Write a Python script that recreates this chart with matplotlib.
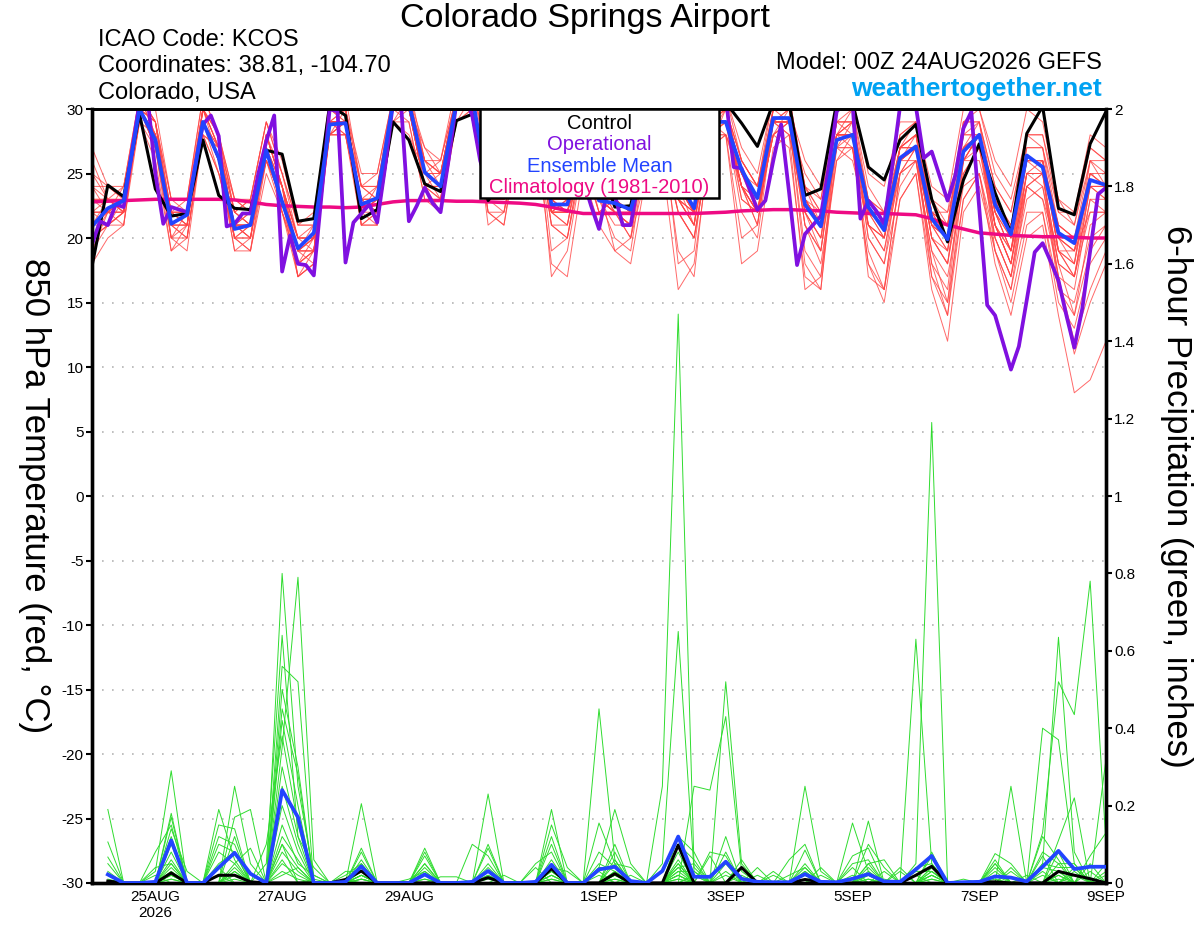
import numpy as np
import pandas as pd
import matplotlib
matplotlib.use("Agg")
import matplotlib.pyplot as plt
from matplotlib.patches import Rectangle

plt.rcParams['font.family'] = ['Liberation Sans', 'DejaVu Sans']

# ---------------- data ----------------
start = '2026-08-24 00:00'
times6 = pd.date_range(start, periods=65, freq='6h').to_numpy()
times3 = pd.date_range(start, periods=129, freq='3h').to_numpy()

tick_dates = pd.to_datetime(['2026-08-25', '2026-08-27', '2026-08-29', '2026-09-01',
                             '2026-09-03', '2026-09-05', '2026-09-07', '2026-09-09']).to_numpy()
tick_labels = ['25AUG\n2026', '27AUG', '29AUG', '1SEP', '3SEP', '5SEP', '7SEP', '9SEP']
temp_ticks = [-30, -25, -20, -15, -10, -5, 0, 5, 10, 15, 20, 25, 30]
precip_ticks = [0, 0.2, 0.4, 0.6, 0.8, 1.0, 1.2, 1.4, 1.6, 1.8, 2.0]
precip_tick_labels = ['0', '0.2', '0.4', '0.6', '0.8', '1', '1.2', '1.4', '1.6', '1.8', '2']

# control (GEFS c00) 850 hPa temperature, 6-hourly
control_temp = [17.8, 24.1, 23.2, 29.6, 23.8, 21.7, 21.9, 27.6, 23.3, 22.3, 22.2, 26.8, 26.5,
                21.3, 21.5, 30.3, 29.5, 21.5, 22.2, 29.0, 27.6, 24.2, 23.6, 29.1, 29.6,
                22.9, 24.5, 29.5, 30.5, 24.5, 24.0, 29.0, 26.0, 22.4, 22.5, 28.5, 30.5,
                26.5, 25.0, 30.5, 30.5, 28.9, 27.1, 30.5, 30.5, 23.3, 23.8, 30.5, 30.5,
                25.5, 24.5, 27.6, 28.8, 23.0, 19.7, 24.5, 27.3, 23.5, 20.4, 28.1, 30.2,
                22.3, 21.8, 27.3, 29.8]

# ensemble mean 850 hPa temperature, 6-hourly
mean_temp = [20.9, 22.3, 22.9, 30.0, 27.6, 21.1, 21.8, 29.0, 26.2, 20.7, 21.0, 26.8, 22.8,
             19.2, 20.4, 28.8, 28.9, 22.6, 23.1, 30.5, 30.5, 25.1, 24.0, 30.5, 31.0,
             23.8, 23.5, 29.0, 29.5, 22.6, 22.6, 27.0, 22.9, 22.7, 22.2, 26.5, 28.0,
             24.5, 22.3, 29.0, 29.0, 25.3, 23.1, 29.3, 29.3, 22.6, 20.9, 27.6, 28.0,
             22.4, 20.6, 26.2, 27.1, 21.5, 19.9, 26.7, 28.0, 22.6, 20.3, 26.4, 25.5,
             20.4, 19.6, 24.5, 24.1]

# climatology (1981-2010), 6-hourly
clim_temp = [22.8, 22.85, 22.9, 22.95, 23.0, 23.0, 23.0, 23.0, 23.0, 22.95, 22.8, 22.6, 22.5,
             22.45, 22.4, 22.4, 22.35, 22.4, 22.6, 22.8, 22.9, 22.9, 22.9, 22.85, 22.85,
             22.8, 22.75, 22.7, 22.6, 22.4, 22.1, 21.9, 21.9, 21.9, 21.9, 21.9, 21.9,
             21.9, 21.9, 21.95, 22.0, 22.1, 22.15, 22.2, 22.2, 22.15, 22.1, 22.0, 21.95,
             21.9, 21.9, 21.85, 21.8, 21.5, 21.0, 20.7, 20.4, 20.3, 20.2, 20.15, 20.1,
             20.1, 20.05, 20.0, 20.0]

# operational GFS 850 hPa temperature, 3-hourly
oper_temp = [19.5, 21.3, 21.0, 22.6, 22.4, 26.5, 30.5, 31.0, 25.0, 21.1, 22.4, 22.2, 22.0,
             25.5, 28.8, 29.5, 27.9, 20.9, 21.1, 21.9, 21.9, 25.0, 27.5, 29.5, 17.4,
             20.2, 18.0, 17.9, 17.1, 23.5, 30.0, 29.8, 18.1, 21.2, 21.9, 22.6, 21.2,
             25.5, 30.5, 30.5, 21.3, 22.5, 23.9, 22.7, 22.0, 26.0, 30.5, 31.0, 29.5,
             26.0, 24.0, 25.5, 27.5, 29.0, 30.5, 28.0, 25.0, 23.5, 23.6, 26.0, 28.5,
             29.0, 24.5, 22.5, 20.7, 23.5, 23.3, 21.0, 21.0, 24.5, 27.5, 29.5, 30.5,
             28.0, 25.5, 24.0, 23.8, 25.5, 28.0, 30.0, 31.0, 25.5, 25.4, 23.8, 22.2,
             22.9, 26.0, 28.8, 23.5, 17.9, 20.3, 21.0, 21.7, 25.5, 29.8, 30.5, 30.5,
             21.5, 22.9, 22.1, 21.1, 25.5, 30.2, 31.0, 30.2, 26.2, 26.7, 24.8, 22.9,
             24.9, 28.5, 29.8, 22.3, 14.8, 14.0, 11.9, 9.8, 11.6, 15.2, 18.9, 19.6,
             18.2, 16.7, 14.0, 11.5, 14.5, 19.0, 23.4, 23.9]

# ensemble members 850 hPa temperature, 6-hourly
member_temp = [
    [24, 24,23,31,30, 23,23,31,28, 22,23,29,25, 21,21,30,31, 24,25,31,32, 26,25,31,32, 25,26,31,30, 24,25,29,25, 24,23,28,29, 25,23,30,30, 26,24,29,28, 22,20,27,27, 18,16,25,26, 19,17,24,25, 19,16,22,22, 16,15,20,21],
    [18, 20,21,30,27, 19,21,29,26, 19,20,28,24, 17,18,28,29, 21,22,30,31, 24,23,31,30, 23,22,28,29, 21,20,26,24, 22,21,27,29, 23,21,29,30, 24,22,30,31, 24,23,30,30, 24,22,28,29, 22,21,29,30, 25,23,28,28, 22,22,27,26],
    [26, 23,22,29,27, 21,20,28,27, 23,22,26,22, 18,19,30,30, 22,21,29,28, 25,26,32,31, 22,21,29,30, 17,19,26,22, 22,20,25,26, 16,18,27,30, 23,22,28,27, 17,16,28,30, 21,20,27,28, 22,21,29,29, 21,18,24,23, 17,12,16,19],
    [22, 22,24,31,29, 21,22,30,26, 21,21,28,25, 20,20,29,28, 23,24,30,30, 26,24,29,31, 24,25,30,29, 22,23,28,24, 23,22,28,28, 24,21,30,31, 26,24,31,30, 21,18,26,28, 20,18,24,26, 18,16,26,28, 22,19,27,27, 19,18,26,24],
    [20, 21,22,30,28, 22,21,29,25, 20,21,26,23, 19,21,28,29, 24,23,30,29, 23,23,31,31, 25,24,29,28, 23,24,27,23, 24,23,27,27, 23,22,28,28, 24,22,28,29, 25,23,29,29, 23,21,27,28, 20,19,28,29, 24,22,28,27, 21,20,25,24],
    [23, 23,23,30,28, 20,19,28,27, 21,20,27,22, 19,18,29,30, 21,22,31,30, 25,25,30,30, 23,24,30,31, 22,22,28,23, 21,21,28,29, 18,19,29,29, 24,21,29,30, 22,20,28,27, 19,16,23,25, 16,12,22,24, 19,15,21,22, 15,13,18,20],
    [21, 21,22,29,28, 21,22,30,27, 21,22,27,23, 19,20,28,28, 22,23,29,31, 25,24,30,31, 24,23,29,28, 22,23,26,22, 23,22,26,28, 24,22,28,28, 25,23,29,29, 23,21,28,29, 22,21,27,28, 21,20,27,29, 23,21,27,27, 22,21,26,26],
    [19, 22,23,31,29, 21,21,29,26, 19,19,26,24, 18,19,30,29, 23,22,30,30, 24,22,29,30, 22,22,28,29, 21,21,27,24, 19,20,28,27, 22,20,27,28, 20,21,30,31, 24,21,27,26, 21,20,25,27, 22,22,26,27, 21,18,25,24, 17,16,23,22],
    [25, 23,22,30,29, 22,23,31,28, 23,22,28,24, 20,20,30,29, 24,24,30,30, 27,26,31,32, 26,25,31,30, 25,24,28,25, 25,24,29,30, 26,24,31,30, 25,23,28,29, 23,22,29,29, 22,21,26,27, 20,18,25,27, 22,20,26,25, 20,18,24,23],
    [22, 22,23,30,27, 20,20,28,25, 22,21,26,23, 19,19,28,30, 24,23,31,30, 24,25,30,30, 23,23,28,28, 23,22,26,23, 22,22,27,27, 24,23,29,29, 24,22,28,29, 19,17,28,28, 22,22,27,27, 21,19,27,28, 20,17,23,24, 18,14,19,21],
    [21, 22,22,30,28, 21,22,29,26, 20,20,27,23, 17,19,29,29, 22,23,30,30, 25,24,31,31, 24,24,29,29, 23,22,27,23, 22,21,27,28, 24,22,29,29, 25,23,29,29, 23,21,28,28, 22,20,26,27, 23,21,27,28, 23,20,26,26, 20,19,25,25],
    [20, 21,22,31,28, 22,21,30,27, 22,21,28,24, 20,21,30,30, 22,24,31,31, 26,25,31,31, 25,25,30,29, 23,23,28,23, 22,22,26,27, 23,21,28,30, 26,24,30,30, 22,19,27,27, 21,19,25,26, 19,15,23,25, 18,14,20,21, 14,8,9,12],
    [23, 23,24,30,29, 22,22,29,26, 21,21,27,23, 19,20,29,29, 23,23,30,30, 24,24,30,31, 24,23,29,29, 22,23,27,23, 23,22,27,28, 24,22,29,30, 25,23,29,29, 23,21,28,28, 22,21,26,28, 22,20,28,28, 23,20,26,26, 21,20,24,24],
    [21, 23,22,30,27, 20,22,29,26, 21,22,27,23, 20,19,28,28, 22,22,30,31, 25,24,31,31, 23,23,30,30, 22,21,28,24, 24,23,28,28, 25,23,29,28, 25,22,28,30, 24,22,27,29, 23,22,26,27, 21,21,26,26, 21,19,24,23, 19,19,22,22],
    [22, 21,23,30,28, 21,21,30,27, 21,20,27,22, 18,20,29,29, 23,23,30,30, 26,25,31,31, 24,24,30,29, 23,22,27,22, 23,22,27,27, 23,22,28,29, 24,23,29,28, 22,20,28,28, 22,21,27,27, 21,20,26,28, 22,19,26,26, 20,19,24,24],
    [27, 24,23,31,29, 23,22,30,28, 22,23,29,25, 21,21,31,30, 25,25,31,31, 27,25,31,32, 26,24,31,31, 24,23,29,24, 25,24,29,30, 26,25,31,31, 27,25,31,30, 26,24,30,31, 25,24,29,29, 24,23,30,30, 26,24,30,29, 23,22,28,27],
    [19, 21,21,29,26, 19,20,28,25, 20,19,25,22, 17,18,28,28, 21,21,29,29, 23,22,29,30, 22,21,28,28, 18,17,25,21, 19,18,25,27, 22,20,27,28, 18,19,27,28, 16,17,26,27, 18,15,23,25, 17,14,23,25, 20,17,24,25, 18,17,22,22],
    [24, 22,23,30,28, 22,22,29,27, 21,21,28,24, 20,20,29,29, 23,23,30,30, 25,24,30,31, 24,24,29,29, 23,23,27,24, 22,21,27,28, 24,22,29,29, 24,22,29,29, 23,21,28,28, 21,20,26,27, 20,18,27,28, 22,19,26,26, 19,17,24,24],
    [22, 22,22,30,28, 21,22,29,26, 21,21,26,23, 19,20,28,29, 23,22,29,30, 24,24,30,30, 23,23,29,29, 22,22,26,23, 23,22,26,27, 23,21,28,29, 24,22,29,29, 23,21,28,28, 22,21,26,26, 21,20,27,27, 23,21,26,26, 21,20,26,25],
    [20, 22,22,31,28, 22,21,29,26, 20,21,27,24, 19,19,29,30, 22,23,30,30, 25,23,30,30, 24,23,29,29, 22,22,27,23, 22,21,28,29, 24,22,29,30, 26,24,30,30, 23,21,29,29, 22,21,27,29, 22,21,28,28, 21,18,25,25, 18,17,23,23],
    [23, 22,23,30,29, 20,21,30,28, 20,19,27,24, 17,18,29,29, 21,21,30,30, 24,23,30,31, 21,22,29,30, 19,20,27,23, 20,19,27,28, 19,17,28,29, 22,20,29,29, 18,16,27,28, 17,16,25,27, 17,15,26,28, 19,16,24,25, 16,14,21,22],
    [25, 24,24,31,29, 23,23,30,28, 23,23,29,26, 21,22,30,30, 24,24,31,31, 26,26,31,31, 25,25,30,30, 24,24,28,25, 24,23,28,29, 25,24,30,30, 25,24,30,30, 24,22,29,30, 23,22,28,29, 23,22,29,29, 24,22,28,28, 23,21,27,26],
    [21, 22,21,30,27, 21,20,29,26, 20,20,26,23, 18,19,29,28, 22,23,30,30, 25,24,30,30, 23,24,29,29, 22,21,27,23, 22,20,27,28, 22,20,28,29, 23,22,29,29, 21,19,28,28, 21,19,26,27, 20,18,26,28, 21,19,25,26, 19,17,24,23],
    [22, 23,23,30,28, 22,22,30,27, 21,21,27,24, 19,20,29,29, 22,23,30,30, 25,25,31,31, 24,23,29,29, 21,20,27,23, 22,21,27,28, 23,21,29,29, 24,21,29,29, 21,19,28,29, 20,18,26,27, 18,14,25,27, 20,17,25,25, 17,11,15,18],
    [20, 21,22,30,28, 21,21,29,26, 21,20,27,23, 19,19,28,29, 23,23,30,30, 24,24,30,30, 24,24,29,29, 22,22,27,23, 23,22,27,28, 23,22,29,29, 24,23,29,30, 23,21,28,29, 22,21,27,28, 22,20,27,28, 22,20,26,26, 20,19,25,24],
    [24, 23,22,30,28, 21,22,29,27, 22,21,28,24, 20,20,29,29, 23,22,30,31, 25,24,31,31, 24,24,30,29, 23,22,27,24, 23,22,28,28, 24,22,29,30, 25,23,30,29, 23,21,29,28, 22,20,27,27, 21,19,27,28, 21,18,26,26, 19,18,25,24],
]

# 6-hour precipitation (inches), valid 24AUG 06Z .. 9SEP 00Z (64 steps)
control_precip = [0.005, 0, 0, 0, 0.026, 0, 0, 0.02, 0.02, 0.003, 0, 0, 0, 0, 0, 0.009,
                  0.031, 0, 0, 0, 0, 0, 0, 0, 0.014, 0, 0, 0, 0.037, 0, 0, 0,
                  0.024, 0, 0, 0, 0.098, 0, 0, 0, 0.04, 0, 0, 0, 0.009, 0.003, 0, 0,
                  0, 0, 0, 0.02, 0.043, 0, 0, 0.002, 0.003, 0, 0, 0, 0.03, 0.02, 0.011, 0]
mean_precip = [0.022, 0, 0, 0.003, 0.11, 0, 0, 0.04, 0.078, 0.024, 0, 0.24, 0.17, 0, 0, 0.003,
               0.043, 0, 0, 0, 0.022, 0, 0, 0.003, 0.031, 0, 0, 0.003, 0.047, 0, 0, 0.035,
               0.042, 0.005, 0, 0.031, 0.12, 0.016, 0.016, 0.055, 0.011, 0.003, 0.002, 0.002, 0.023, 0.003, 0.002, 0.011,
               0.023, 0.004, 0.003, 0.035, 0.07, 0, 0.002, 0.003, 0.017, 0.014, 0.004, 0.042, 0.083, 0.036, 0.042, 0.042]

# member precipitation: {6-hour step number: inches}, dry steps omitted
member_precip = [
    {1: 0.19, 5: 0.05, 9: 0.12, 12: 0.80, 13: 0.25, 14: 0.02, 17: 0.03, 21: 0.05, 29: 0.06, 32: 0.45, 33: 0.06, 36: 0.25, 37: 1.47, 38: 0.04, 45: 0.04, 49: 0.05, 53: 0.04, 61: 0.08, 63: 0.05},
    {1: 0.106, 4: 0.03, 5: 0.29, 8: 0.05, 9: 0.08, 12: 0.35, 13: 0.79, 14: 0.06, 17: 0.02, 25: 0.23, 29: 0.04, 33: 0.1, 36: 0.05, 37: 0.65, 38: 0.03, 40: 0.08, 52: 0.63, 53: 0.05, 60: 0.05, 61: 0.635, 62: 0.08},
    {1: 0.067, 5: 0.18, 8: 0.19, 9: 0.06, 11: 0.05, 12: 0.64, 13: 0.12, 17: 0.09, 21: 0.04, 29: 0.19, 32: 0.04, 33: 0.19, 34: 0.05, 37: 0.08, 40: 0.52, 41: 0.05, 49: 0.16, 52: 0.05, 53: 1.19, 60: 0.4, 61: 0.37, 62: 0.05},
    {1: 0.05, 5: 0.17, 9: 0.25, 10: 0.05, 12: 0.56, 13: 0.52, 17: 0.06, 24: 0.1, 25: 0.07, 28: 0.04, 32: 0.155, 33: 0.05, 38: 0.25, 39: 0.24, 40: 0.43, 41: 0.03, 45: 0.25, 46: 0.03, 57: 0.04, 60: 0.13, 61: 0.52, 62: 0.435, 63: 0.78, 64: 0.1},
    {4: 0.08, 5: 0.15, 9: 0.17, 10: 0.19, 12: 0.5, 13: 0.3, 17: 0.205, 21: 0.09, 25: 0.1, 29: 0.15, 30: 0.04, 33: 0.08, 37: 0.12, 38: 0.08, 44: 0.06, 45: 0.1, 48: 0.155, 49: 0.03, 53: 0.08, 57: 0.076, 58: 0.05, 61: 0.11, 62: 0.22, 64: 0.32},
    {5: 0.14, 6: 0.03, 8: 0.15, 9: 0.14, 12: 0.45, 13: 0.28, 16: 0.02, 17: 0.05, 22: 0.016, 23: 0.016, 25: 0.09, 29: 0.12, 32: 0.08, 33: 0.04, 37: 0.1, 38: 0.06, 40: 0.12, 45: 0.085, 49: 0.1, 50: 0.04, 53: 0.07, 58: 0.25, 60: 0.12, 61: 0.06, 63: 0.07, 64: 0.13},
    {1: 0.03, 5: 0.12, 8: 0.12, 9: 0.1, 12: 0.42, 13: 0.2, 17: 0.08, 21: 0.08, 25: 0.05, 29: 0.1, 33: 0.06, 37: 0.06, 39: 0.08, 40: 0.07, 45: 0.05, 48: 0.07, 49: 0.09, 52: 0.04, 53: 0.05, 57: 0.06, 60: 0.08, 61: 0.05, 62: 0.05},
    {5: 0.1, 9: 0.05, 11: 0.1, 12: 0.38, 13: 0.15, 16: 0.03, 17: 0.03, 21: 0.07, 25: 0.04, 28: 0.05, 29: 0.08, 32: 0.05, 33: 0.03, 37: 0.05, 40: 0.05, 44: 0.02, 45: 0.04, 48: 0.05, 49: 0.06, 51: 0.04, 53: 0.04, 57: 0.05, 60: 0.07, 62: 0.04, 64: 0.05},
    {5: 0.08, 8: 0.1, 9: 0.08, 12: 0.3, 13: 0.12, 14: 0.04, 17: 0.02, 21: 0.05, 26: 0.02, 29: 0.05, 33: 0.05, 34: 0.04, 37: 0.04, 38: 0.05, 41: 0.06, 46: 0.04, 49: 0.05, 50: 0.06, 53: 0.03, 58: 0.04, 61: 0.05, 63: 0.03},
    {4: 0.04, 5: 0.05, 8: 0.08, 9: 0.05, 10: 0.09, 12: 0.25, 13: 0.1, 17: 0.05, 20: 0.01, 21: 0.03, 25: 0.03, 29: 0.04, 30: 0.03, 32: 0.04, 33: 0.04, 37: 0.03, 38: 0.03, 42: 0.04, 45: 0.03, 49: 0.03, 52: 0.03, 53: 0.03, 57: 0.05, 60: 0.05, 61: 0.04, 62: 0.04},
    {1: 0.02, 5: 0.04, 9: 0.04, 12: 0.2, 13: 0.08, 17: 0.02, 21: 0.02, 29: 0.03, 33: 0.03, 37: 0.02, 39: 0.07, 43: 0.03, 45: 0.02, 48: 0.04, 50: 0.03, 53: 0.02, 57: 0.02, 60: 0.04, 61: 0.03, 64: 0.02},
    {5: 0.03, 9: 0.03, 12: 0.15, 13: 0.05, 14: 0.02, 17: 0.01, 21: 0.01, 29: 0.02, 33: 0.02, 37: 0.04, 40: 0.03, 46: 0.02, 49: 0.02, 51: 0.03, 53: 0.01, 58: 0.03, 61: 0.02},
    {5: 0.02, 8: 0.04, 12: 0.1, 13: 0.04, 17: 0.01, 25: 0.02, 29: 0.02, 34: 0.02, 37: 0.03, 42: 0.02, 45: 0.02, 49: 0.01, 53: 0.02, 59: 0.02, 62: 0.02},
    {5: 0.02, 9: 0.02, 12: 0.08, 13: 0.03, 21: 0.01, 29: 0.01, 33: 0.01, 37: 0.02, 41: 0.02, 48: 0.02, 53: 0.01, 57: 0.01, 61: 0.02},
    {5: 0.01, 12: 0.05, 13: 0.02, 17: 0.01, 25: 0.01, 32: 0.02, 37: 0.01, 43: 0.02, 50: 0.01, 55: 0.01, 60: 0.02},
    {1: 0.01, 5: 0.01, 9: 0.01, 12: 0.03, 13: 0.01, 29: 0.01, 33: 0.01, 37: 0.01, 49: 0.01, 61: 0.01},
    {12: 0.02, 13: 0.04, 17: 0.02, 33: 0.02, 38: 0.02, 45: 0.01, 53: 0.02},
    {8: 0.02, 12: 0.06, 16: 0.01, 29: 0.03, 37: 0.02, 40: 0.02, 49: 0.02, 61: 0.03},
    {5: 0.06, 12: 0.12, 13: 0.06, 21: 0.03, 25: 0.02, 33: 0.03, 37: 0.05, 45: 0.03, 52: 0.02, 57: 0.03, 62: 0.03},
    {4: 0.02, 9: 0.03, 12: 0.1, 14: 0.01, 29: 0.02, 32: 0.03, 38: 0.02, 49: 0.04, 53: 0.03, 60: 0.03, 64: 0.03},
]

legend_labels = ['Control', 'Operational', 'Ensemble Mean', 'Climatology (1981-2010)']

# ---------------- styles ----------------
C_CONTROL = 'black'
C_OPER = '#8010e0'
C_MEAN = '#2244ff'
C_CLIM = '#ee0a84'
C_RED = '#ff4444'
C_GREEN = '#2fdc2f'
legend_colors = [C_CONTROL, C_OPER, C_MEAN, C_CLIM]

W, H = 1200, 927
fig = plt.figure(figsize=(W / 100, H / 100), dpi=100)
L, R, T, B = 92, 1106, 109, 883
ax = fig.add_axes([L / W, 1 - B / H, (R - L) / W, (B - T) / H])
ax2 = ax.twinx()

precip_times = times6[1:]

# temperature members
for m in member_temp:
    ax.plot(times6, m, color=C_RED, lw=0.7, alpha=0.8, zorder=2)
ax.plot(times6, clim_temp, color=C_CLIM, lw=2.5, zorder=4)
ax.plot(times6, control_temp, color=C_CONTROL, lw=2.2, zorder=5)
ax.plot(times3, oper_temp, color=C_OPER, lw=2.7, zorder=6)
ax.plot(times6, mean_temp, color=C_MEAN, lw=2.7, zorder=7)

# precipitation members
for d in member_precip:
    arr = np.zeros(len(precip_times))
    for k, v in d.items():
        arr[k - 1] = v
    ax2.plot(precip_times, arr, color=C_GREEN, lw=0.7, zorder=2)
ax2.plot(precip_times, control_precip, color=C_CONTROL, lw=2.2, zorder=5)
ax2.plot(precip_times, mean_precip, color=C_MEAN, lw=2.7, zorder=6)

# axes setup
ax.set_xlim(times6[0], times6[-1])
ax.set_ylim(-30, 30)
ax2.set_ylim(0, 2)
ax.set_yticks(temp_ticks)
ax.set_yticklabels([str(t) for t in temp_ticks])
ax2.set_yticks(precip_ticks)
ax2.set_yticklabels(precip_tick_labels)
ax.set_xticks(tick_dates)
ax.set_xticklabels(tick_labels)

ax.tick_params(axis='x', length=0, pad=5, labelsize=11)
ax.tick_params(axis='y', direction='out', length=4, width=1.5, pad=2, labelsize=11)
ax2.tick_params(axis='y', direction='out', length=4, width=1.5, pad=2, labelsize=11)

ax.grid(True, axis='y', color='#b4b4b4', linestyle=(0, (1, 5)), linewidth=1.2)
ax.set_axisbelow(True)

for a in (ax, ax2):
    for s in a.spines.values():
        s.set_linewidth(2.4)
        s.set_color('black')
    a.spines['top'].set_linewidth(2.0)

# legend box (colored text only)
box_l, box_r = (480 - L) / (R - L), (719 - L) / (R - L)
box_b = (B - 198) / (B - T)
ax2.add_patch(Rectangle((box_l, box_b), box_r - box_l, 1 - box_b, transform=ax2.transAxes,
                        facecolor='white', edgecolor='black', lw=1.8, zorder=20, clip_on=False))
for k, (lab, col) in enumerate(zip(legend_labels, legend_colors)):
    ypix = 121 + k * 21.5
    ax2.text((box_l + box_r) / 2, (B - ypix) / (B - T), lab, color=col, fontsize=14.5,
             ha='center', va='center_baseline', transform=ax2.transAxes, zorder=21)

# titles and annotations
fig.text(585 / W, 1 - 19 / H, 'Colorado Springs Airport', fontsize=24.5, ha='center', va='center')
fig.text(98 / W, 1 - 40 / H, 'ICAO Code: KCOS', fontsize=17, ha='left', va='center')
fig.text(98 / W, 1 - 66 / H, 'Coordinates: 38.81, -104.70', fontsize=17, ha='left', va='center')
fig.text(98 / W, 1 - 93 / H, 'Colorado, USA', fontsize=17, ha='left', va='center')
fig.text(1102 / W, 1 - 63 / H, 'Model: 00Z 24AUG2026 GEFS', fontsize=17, ha='right', va='center')
fig.text(1102 / W, 1 - 89 / H, 'weathertogether.net', fontsize=19, fontweight='bold',
         color='#00a2f2', ha='right', va='center')

fig.text(34 / W, 1 - 496 / H, '850 hPa Temperature (red, °C)', fontsize=25, rotation=270,
         ha='center', va='center')
fig.text(1176 / W, 1 - 496 / H, '6-hour Precipitation (green, inches)', fontsize=25,
         rotation=270, ha='center', va='center')

fig.savefig('out.png', dpi=100)
